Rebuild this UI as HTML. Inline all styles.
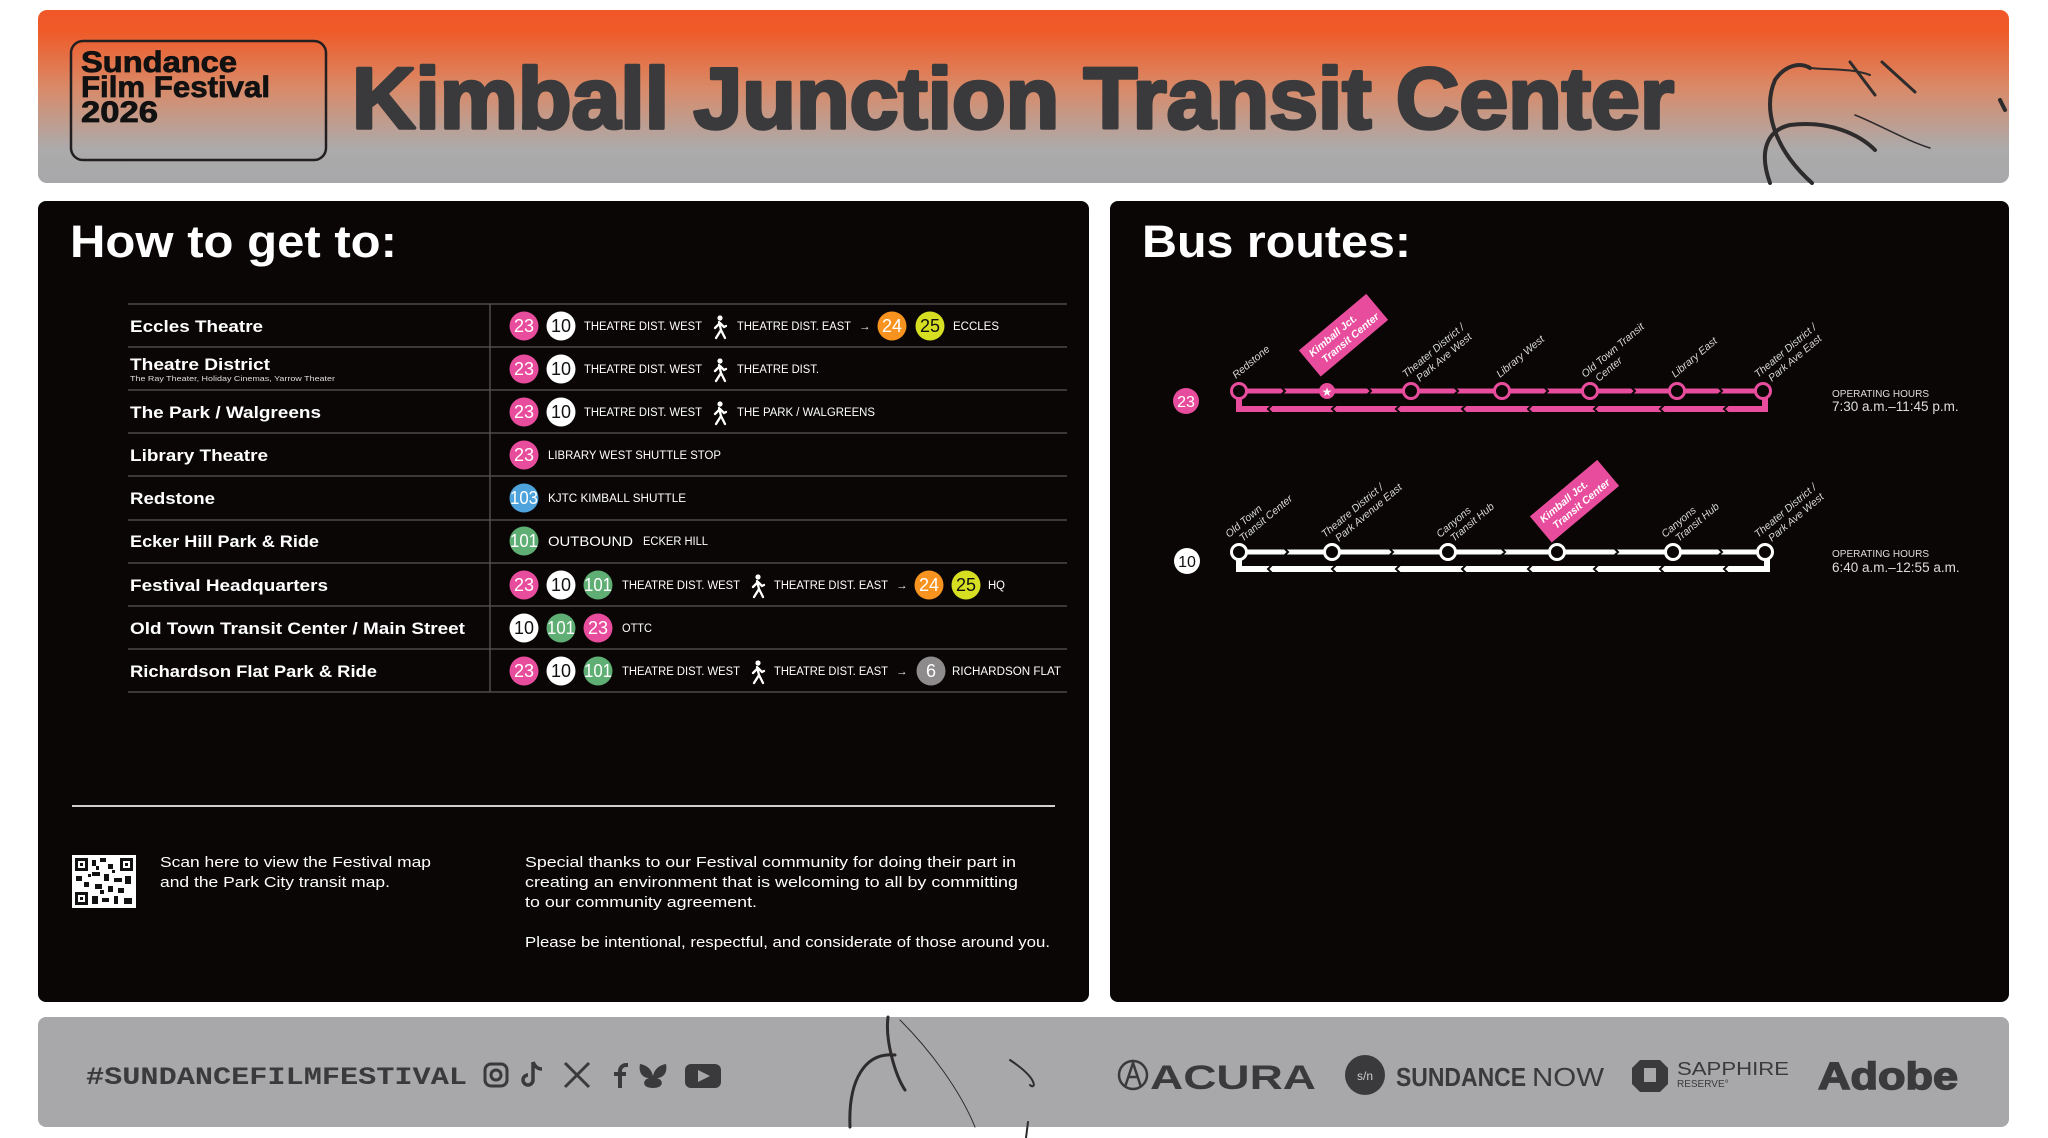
<!DOCTYPE html>
<html><head><meta charset="utf-8"><style>
html,body{margin:0;padding:0;background:#fff;}
svg{display:block;}
</style></head><body>
<svg width="2048" height="1138" viewBox="0 0 2048 1138" xmlns="http://www.w3.org/2000/svg" font-family="Liberation Sans, sans-serif">
<defs>
<linearGradient id="hg" x1="0" y1="0" x2="0" y2="1">
<stop offset="0" stop-color="#f0582a"/>
<stop offset="0.12" stop-color="#ef5a28"/>
<stop offset="0.45" stop-color="#d98a68"/>
<stop offset="0.8" stop-color="#acaaab"/>
<stop offset="1" stop-color="#a8a8aa"/>
</linearGradient>
<g id="walk" fill="#fff" stroke="#fff" stroke-linecap="round">
<circle cx="0" cy="-9" r="2.6" stroke="none"/>
<path d="M-1,-5 L1,3 L-4,11 M1,3 L5,11 M0,-4 L-5,1 M0,-4 L4,0 L6,-1" fill="none" stroke-width="2.3"/>
</g>
</defs>

<!-- Header -->
<rect x="38" y="10" width="1971" height="173" rx="9" fill="url(#hg)"/>
<rect x="71" y="41" width="255" height="119" rx="12" fill="none" stroke="#231f20" stroke-width="2.5"/>
<g fill="#111" stroke="#111" stroke-width="0.8">
<text x="81" y="72" font-size="30" font-weight="bold" textLength="156" lengthAdjust="spacingAndGlyphs">Sundance</text>
<text x="81" y="97" font-size="30" font-weight="bold" textLength="189" lengthAdjust="spacingAndGlyphs">Film Festival</text>
<text x="81" y="122" font-size="30" font-weight="bold" textLength="77" lengthAdjust="spacingAndGlyphs">2026</text>
</g>
<text x="352" y="128" font-size="86" font-weight="bold" fill="#3a3a3c" stroke="#3a3a3c" stroke-width="3.5" stroke-linejoin="round" textLength="1322" lengthAdjust="spacingAndGlyphs">Kimball Junction Transit Center</text>
<g fill="none" stroke="#2e2b2c" stroke-linecap="round">
<path d="M1812,183 C1775,150 1762,110 1775,80 C1785,65 1800,62 1810,68" stroke-width="4"/>
<path d="M1810,68 C1830,70 1850,68 1870,75" stroke-width="2"/>
<path d="M1770,183 C1758,150 1768,130 1790,125 C1830,120 1860,135 1875,150" stroke-width="4"/>
<path d="M1855,115 C1880,125 1905,140 1930,148" stroke-width="1.5"/>
<path d="M1850,62 L1875,95 M1882,62 L1915,92" stroke-width="3"/>
<path d="M2000,100 L2005,110" stroke-width="4"/>
</g>

<!-- Left panel -->
<rect x="38" y="201" width="1051" height="801" rx="8" fill="#0a0606"/>
<text x="70" y="257" font-size="45" font-weight="bold" fill="#fff" textLength="327" lengthAdjust="spacingAndGlyphs">How to get to:</text>
<g stroke="#5a5656" stroke-width="1.3">
<line x1="128" y1="304" x2="1067" y2="304"/><line x1="128" y1="347" x2="1067" y2="347"/>
<line x1="128" y1="390" x2="1067" y2="390"/><line x1="128" y1="433" x2="1067" y2="433"/>
<line x1="128" y1="476" x2="1067" y2="476"/><line x1="128" y1="520" x2="1067" y2="520"/>
<line x1="128" y1="563" x2="1067" y2="563"/><line x1="128" y1="606" x2="1067" y2="606"/>
<line x1="128" y1="649" x2="1067" y2="649"/><line x1="128" y1="692" x2="1067" y2="692"/>
<line x1="490" y1="304" x2="490" y2="692"/>
</g>
<g font-size="17" font-weight="bold" fill="#fff">
<text x="130" y="332" textLength="133" lengthAdjust="spacingAndGlyphs">Eccles Theatre</text>
<text x="130" y="370" textLength="140" lengthAdjust="spacingAndGlyphs">Theatre District</text>
<text x="130" y="418" textLength="191" lengthAdjust="spacingAndGlyphs">The Park / Walgreens</text>
<text x="130" y="461" textLength="138" lengthAdjust="spacingAndGlyphs">Library Theatre</text>
<text x="130" y="504" textLength="85" lengthAdjust="spacingAndGlyphs">Redstone</text>
<text x="130" y="547" textLength="189" lengthAdjust="spacingAndGlyphs">Ecker Hill Park &amp; Ride</text>
<text x="130" y="591" textLength="198" lengthAdjust="spacingAndGlyphs">Festival Headquarters</text>
<text x="130" y="634" textLength="335" lengthAdjust="spacingAndGlyphs">Old Town Transit Center / Main Street</text>
<text x="130" y="677" textLength="247" lengthAdjust="spacingAndGlyphs">Richardson Flat Park &amp; Ride</text>
</g>
<text x="130" y="381" font-size="7.5" fill="#ddd" textLength="205" lengthAdjust="spacingAndGlyphs">The Ray Theater, Holiday Cinemas, Yarrow Theater</text>

<!-- badges -->
<g font-size="18" text-anchor="middle">
<circle cx="524" cy="326" r="14.5" fill="#e84c9c"/><text x="524" y="332" fill="#fff">23</text>
<circle cx="561" cy="326" r="14.5" fill="#fff"/><text x="561" y="332" fill="#111">10</text>
<circle cx="892" cy="326" r="14.5" fill="#f7931e"/><text x="892" y="332" fill="#fff">24</text>
<circle cx="930" cy="326" r="14.5" fill="#d7df23"/><text x="930" y="332" fill="#111">25</text>
<circle cx="524" cy="369" r="14.5" fill="#e84c9c"/><text x="524" y="375" fill="#fff">23</text>
<circle cx="561" cy="369" r="14.5" fill="#fff"/><text x="561" y="375" fill="#111">10</text>
<circle cx="524" cy="412" r="14.5" fill="#e84c9c"/><text x="524" y="418" fill="#fff">23</text>
<circle cx="561" cy="412" r="14.5" fill="#fff"/><text x="561" y="418" fill="#111">10</text>
<circle cx="524" cy="455" r="14.5" fill="#e84c9c"/><text x="524" y="461" fill="#fff">23</text>
<circle cx="524" cy="498" r="14.5" fill="#4fa3dc"/><text x="524" y="504" fill="#fff" textLength="28" lengthAdjust="spacingAndGlyphs">103</text>
<circle cx="524" cy="541" r="14.5" fill="#5fae74"/><text x="524" y="547" fill="#fff" textLength="28" lengthAdjust="spacingAndGlyphs">101</text>
<circle cx="524" cy="585" r="14.5" fill="#e84c9c"/><text x="524" y="591" fill="#fff">23</text>
<circle cx="561" cy="585" r="14.5" fill="#fff"/><text x="561" y="591" fill="#111">10</text>
<circle cx="598" cy="585" r="14.5" fill="#5fae74"/><text x="598" y="591" fill="#fff" textLength="28" lengthAdjust="spacingAndGlyphs">101</text>
<circle cx="929" cy="585" r="14.5" fill="#f7931e"/><text x="929" y="591" fill="#fff">24</text>
<circle cx="966" cy="585" r="14.5" fill="#d7df23"/><text x="966" y="591" fill="#111">25</text>
<circle cx="524" cy="628" r="14.5" fill="#fff"/><text x="524" y="634" fill="#111">10</text>
<circle cx="561" cy="628" r="14.5" fill="#5fae74"/><text x="561" y="634" fill="#fff" textLength="28" lengthAdjust="spacingAndGlyphs">101</text>
<circle cx="598" cy="628" r="14.5" fill="#e84c9c"/><text x="598" y="634" fill="#fff">23</text>
<circle cx="524" cy="671" r="14.5" fill="#e84c9c"/><text x="524" y="677" fill="#fff">23</text>
<circle cx="561" cy="671" r="14.5" fill="#fff"/><text x="561" y="677" fill="#111">10</text>
<circle cx="598" cy="671" r="14.5" fill="#5fae74"/><text x="598" y="677" fill="#fff" textLength="28" lengthAdjust="spacingAndGlyphs">101</text>
<circle cx="931" cy="671" r="14.5" fill="#8d8b8c"/><text x="931" y="677" fill="#fff">6</text>
</g>
<g font-size="11.5" fill="#fff">
<text x="584" y="330" textLength="118" lengthAdjust="spacingAndGlyphs">THEATRE DIST. WEST</text>
<text x="737" y="330" textLength="114" lengthAdjust="spacingAndGlyphs">THEATRE DIST. EAST</text>
<text x="859" y="330">→</text>
<text x="953" y="330" textLength="46" lengthAdjust="spacingAndGlyphs">ECCLES</text>
<text x="584" y="373" textLength="118" lengthAdjust="spacingAndGlyphs">THEATRE DIST. WEST</text>
<text x="737" y="373" textLength="82" lengthAdjust="spacingAndGlyphs">THEATRE DIST.</text>
<text x="584" y="416" textLength="118" lengthAdjust="spacingAndGlyphs">THEATRE DIST. WEST</text>
<text x="737" y="416" textLength="138" lengthAdjust="spacingAndGlyphs">THE PARK / WALGREENS</text>
<text x="548" y="459" textLength="173" lengthAdjust="spacingAndGlyphs">LIBRARY WEST SHUTTLE STOP</text>
<text x="548" y="502" textLength="138" lengthAdjust="spacingAndGlyphs">KJTC KIMBALL SHUTTLE</text>
<text x="548" y="546" font-size="14" textLength="85" lengthAdjust="spacingAndGlyphs">OUTBOUND</text>
<text x="643" y="545" textLength="65" lengthAdjust="spacingAndGlyphs">ECKER HILL</text>
<text x="622" y="589" textLength="118" lengthAdjust="spacingAndGlyphs">THEATRE DIST. WEST</text>
<text x="774" y="589" textLength="114" lengthAdjust="spacingAndGlyphs">THEATRE DIST. EAST</text>
<text x="896" y="589">→</text>
<text x="988" y="589" textLength="17" lengthAdjust="spacingAndGlyphs">HQ</text>
<text x="622" y="632" textLength="30" lengthAdjust="spacingAndGlyphs">OTTC</text>
<text x="622" y="675" textLength="118" lengthAdjust="spacingAndGlyphs">THEATRE DIST. WEST</text>
<text x="774" y="675" textLength="114" lengthAdjust="spacingAndGlyphs">THEATRE DIST. EAST</text>
<text x="896" y="675">→</text>
<text x="952" y="675" textLength="109" lengthAdjust="spacingAndGlyphs">RICHARDSON FLAT</text>
</g>
<use href="#walk" x="720" y="327"/>
<use href="#walk" x="720" y="370"/>
<use href="#walk" x="720" y="413"/>
<use href="#walk" x="758" y="586"/>
<use href="#walk" x="758" y="672"/>

<line x1="72" y1="806" x2="1055" y2="806" stroke="#cfcfcf" stroke-width="2"/>
<rect x="72" y="855" width="64" height="53" fill="#fff"/>
<g fill="#111">
<rect x="75" y="858" width="13" height="13"/><rect x="120" y="858" width="13" height="13"/><rect x="75" y="892" width="13" height="13"/>
<rect x="92" y="860" width="4" height="6"/><rect x="100" y="858" width="6" height="4"/><rect x="108" y="864" width="5" height="5"/>
<rect x="92" y="872" width="8" height="4"/><rect x="104" y="874" width="5" height="7"/><rect x="76" y="876" width="6" height="5"/>
<rect x="114" y="878" width="8" height="4"/><rect x="125" y="876" width="6" height="8"/><rect x="84" y="882" width="5" height="5"/>
<rect x="95" y="884" width="7" height="5"/><rect x="108" y="886" width="5" height="6"/><rect x="118" y="888" width="6" height="5"/>
<rect x="92" y="896" width="6" height="8"/><rect x="102" y="898" width="7" height="4"/><rect x="114" y="896" width="4" height="8"/><rect x="124" y="898" width="8" height="6"/>
<rect x="96" y="866" width="3" height="4"/><rect x="88" y="874" width="3" height="3"/><rect x="100" y="890" width="4" height="4"/><rect x="112" y="870" width="3" height="3"/>
</g>
<rect x="78" y="861" width="7" height="7" fill="#fff"/><rect x="123" y="861" width="7" height="7" fill="#fff"/><rect x="78" y="895" width="7" height="7" fill="#fff"/>
<rect x="80" y="863" width="3" height="3" fill="#111"/><rect x="125" y="863" width="3" height="3" fill="#111"/><rect x="80" y="897" width="3" height="3" fill="#111"/>
<g font-size="15" fill="#fff">
<text x="160" y="867" textLength="271" lengthAdjust="spacingAndGlyphs">Scan here to view the Festival map</text>
<text x="160" y="887" textLength="230" lengthAdjust="spacingAndGlyphs">and the Park City transit map.</text>
<text x="525" y="867" textLength="491" lengthAdjust="spacingAndGlyphs">Special thanks to our Festival community for doing their part in</text>
<text x="525" y="887" textLength="493" lengthAdjust="spacingAndGlyphs">creating an environment that is welcoming to all by committing</text>
<text x="525" y="907" textLength="232" lengthAdjust="spacingAndGlyphs">to our community agreement.</text>
<text x="525" y="947" textLength="525" lengthAdjust="spacingAndGlyphs">Please be intentional, respectful, and considerate of those around you.</text>
</g>

<!-- Right panel -->
<rect x="1110" y="201" width="899" height="801" rx="8" fill="#0a0606"/>
<text x="1142" y="257" font-size="45" font-weight="bold" fill="#fff" textLength="269" lengthAdjust="spacingAndGlyphs">Bus routes:</text>

<!-- Route 23 -->
<g stroke="#e84c9c" fill="none">
<line x1="1239" y1="391" x2="1763" y2="391" stroke-width="5"/>
<path d="M1239,396 L1239,409 L1765,409 L1765,396" stroke-width="6"/>
</g>
<g stroke="#0a0606" stroke-width="2" fill="none">
<path d="M1281,387 l4,4 l-4,4 M1367,387 l4,4 l-4,4 M1454,387 l4,4 l-4,4 M1544,387 l4,4 l-4,4 M1631,387 l4,4 l-4,4 M1718,387 l4,4 l-4,4"/>
<path d="M1272,405 l-4,4 l4,4 M1336,405 l-4,4 l4,4 M1400,405 l-4,4 l4,4 M1466,405 l-4,4 l4,4 M1532,405 l-4,4 l4,4 M1598,405 l-4,4 l4,4 M1664,405 l-4,4 l4,4 M1728,405 l-4,4 l4,4"/>
</g>
<g fill="#0a0606" stroke="#e84c9c" stroke-width="3">
<circle cx="1239" cy="391" r="7.5"/><circle cx="1411" cy="391" r="7.5"/><circle cx="1502" cy="391" r="7.5"/>
<circle cx="1590" cy="391" r="7.5"/><circle cx="1677" cy="391" r="7.5"/><circle cx="1763" cy="391" r="7.5"/>
</g>
<circle cx="1327" cy="391" r="8" fill="#e84c9c"/>
<text x="1327" y="396" font-size="12" fill="#fff" text-anchor="middle">★</text>
<circle cx="1186" cy="401" r="13" fill="#e84c9c"/>
<text x="1186" y="407" font-size="16" fill="#fff" text-anchor="middle">23</text>
<g font-size="10.5" font-style="italic" fill="#d8d8d8">
<text transform="translate(1236,379) rotate(-40)">Redstone</text>
<text transform="translate(1406,378) rotate(-40)">Theater District /<tspan x="8" dy="12">Park Ave West</tspan></text>
<text transform="translate(1500,378) rotate(-40)">Library West</text>
<text transform="translate(1585,378) rotate(-40)">Old Town Transit<tspan x="8" dy="12">Center</tspan></text>
<text transform="translate(1675,378) rotate(-40)">Library East</text>
<text transform="translate(1758,378) rotate(-40)">Theater District /<tspan x="8" dy="12">Park Ave East</tspan></text>
</g>
<g transform="translate(1322,378) rotate(-40)">
<rect x="0" y="-36" width="88" height="34" fill="#e84c9c"/>
<text x="6" y="-22" font-size="10.5" font-style="italic" font-weight="bold" fill="#fff">Kimball Jct.</text>
<text x="12" y="-9" font-size="10.5" font-style="italic" font-weight="bold" fill="#fff">Transit Center</text>
</g>
<text x="1832" y="397" font-size="10" fill="#ddd">OPERATING HOURS</text>
<text x="1832" y="411" font-size="13.5" fill="#ddd">7:30 a.m.–11:45 p.m.</text>

<!-- Route 10 -->
<g stroke="#fff" fill="none">
<line x1="1239" y1="552" x2="1765" y2="552" stroke-width="5"/>
<path d="M1239,557 L1239,569 L1767,569 L1767,557" stroke-width="6"/>
</g>
<g stroke="#0a0606" stroke-width="2" fill="none">
<path d="M1284,548 l4,4 l-4,4 M1389,548 l4,4 l-4,4 M1501,548 l4,4 l-4,4 M1614,548 l4,4 l-4,4 M1718,548 l4,4 l-4,4"/>
<path d="M1272,565 l-4,4 l4,4 M1336,565 l-4,4 l4,4 M1400,565 l-4,4 l4,4 M1466,565 l-4,4 l4,4 M1532,565 l-4,4 l4,4 M1598,565 l-4,4 l4,4 M1664,565 l-4,4 l4,4 M1728,565 l-4,4 l4,4"/>
</g>
<g fill="#0a0606" stroke="#fff" stroke-width="3">
<circle cx="1239" cy="552" r="7.5"/><circle cx="1332" cy="552" r="7.5"/><circle cx="1448" cy="552" r="7.5"/>
<circle cx="1557" cy="552" r="7.5"/><circle cx="1673" cy="552" r="7.5"/><circle cx="1765" cy="552" r="7.5"/>
</g>
<circle cx="1187" cy="561" r="13" fill="#fff"/>
<text x="1187" y="567" font-size="16" fill="#111" text-anchor="middle">10</text>
<g font-size="10.5" font-style="italic" fill="#d8d8d8">
<text transform="translate(1229,538) rotate(-40)">Old Town<tspan x="8" dy="12">Transit Center</tspan></text>
<text transform="translate(1325,538) rotate(-40)">Theatre District /<tspan x="8" dy="12">Park Avenue East</tspan></text>
<text transform="translate(1440,538) rotate(-40)">Canyons<tspan x="8" dy="12">Transit Hub</tspan></text>
<text transform="translate(1665,538) rotate(-40)">Canyons<tspan x="8" dy="12">Transit Hub</tspan></text>
<text transform="translate(1758,538) rotate(-40)">Theater District /<tspan x="8" dy="12">Park Ave West</tspan></text>
</g>
<g transform="translate(1553,544) rotate(-40)">
<rect x="0" y="-36" width="88" height="34" fill="#e84c9c"/>
<text x="6" y="-22" font-size="10.5" font-style="italic" font-weight="bold" fill="#fff">Kimball Jct.</text>
<text x="12" y="-9" font-size="10.5" font-style="italic" font-weight="bold" fill="#fff">Transit Center</text>
</g>
<text x="1832" y="557" font-size="10" fill="#ddd">OPERATING HOURS</text>
<text x="1832" y="572" font-size="13.5" fill="#ddd">6:40 a.m.–12:55 a.m.</text>

<!-- Footer -->
<rect x="38" y="1017" width="1971" height="110" rx="8" fill="#a8a8aa"/>
<g fill="none" stroke="#2e2b2c" stroke-linecap="round">
<path d="M888,1017 C885,1040 895,1075 905,1090" stroke-width="3"/>
<path d="M895,1055 C865,1052 848,1080 850,1127" stroke-width="3"/>
<path d="M900,1020 C930,1050 960,1090 975,1127" stroke-width="1"/>
<path d="M1010,1060 C1040,1080 1035,1090 1030,1085" stroke-width="2"/>
<path d="M1028,1122 L1026,1138" stroke-width="2"/>
</g>
<text x="86" y="1084" style="font-family:'Liberation Mono',monospace" font-size="25" font-weight="bold" fill="#3a3a3c" textLength="381" lengthAdjust="spacingAndGlyphs">#SUNDANCEFILMFESTIVAL</text>
<g fill="none" stroke="#3a3a3c" stroke-width="3">
<rect x="485" y="1064" width="22" height="22" rx="6"/><circle cx="496" cy="1075" r="5"/>
</g>
<path d="M533,1062 v18 a5,5 0 1 1 -5,-5 M533,1062 c2,5 5,7 9,7" fill="none" stroke="#3a3a3c" stroke-width="3.5"/>
<path d="M565,1063 L589,1087 M589,1063 L565,1087" stroke="#3a3a3c" stroke-width="3"/>
<path d="M620,1088 v-17 a6,6 0 0 1 6,-6 h2 M614,1074 h12" fill="none" stroke="#3a3a3c" stroke-width="4"/>
<path d="M640,1064 C650,1066 652,1072 653,1076 C654,1072 656,1066 666,1064 C668,1074 662,1078 657,1078 C664,1080 664,1088 653,1088 C642,1088 642,1080 649,1078 C644,1078 638,1074 640,1064Z" fill="#3a3a3c"/>
<rect x="685" y="1064" width="36" height="24" rx="6" fill="#3a3a3c"/>
<path d="M698,1070 L710,1076 L698,1082Z" fill="#a8a8aa"/>
<ellipse cx="1133" cy="1075" rx="14" ry="14" fill="none" stroke="#3a3a3c" stroke-width="2.5"/>
<path d="M1125,1087 L1133,1063 L1141,1087 M1128,1077 L1138,1077" stroke="#3a3a3c" stroke-width="2.5" fill="none"/>
<text x="1150" y="1089" font-size="34" font-weight="bold" fill="#3a3a3c" textLength="166" lengthAdjust="spacingAndGlyphs">ACURA</text>
<circle cx="1365" cy="1075" r="20" fill="#3a3a3c"/>
<text x="1365" y="1080" font-size="12" fill="#ccc" text-anchor="middle">s/n</text>
<text x="1396" y="1086" font-size="26" font-weight="bold" fill="#3a3a3c" textLength="130" lengthAdjust="spacingAndGlyphs">SUNDANCE</text>
<text x="1532" y="1086" font-size="26" fill="#3a3a3c" textLength="72" lengthAdjust="spacingAndGlyphs">NOW</text>
<path d="M1640,1060 h20 l8,8 v16 l-8,8 h-20 l-8,-8 v-16 z" fill="#3a3a3c"/>
<rect x="1644" y="1068" width="12" height="14" fill="#a8a8aa"/>
<text x="1677" y="1075" font-size="18" fill="#3a3a3c" textLength="112" lengthAdjust="spacingAndGlyphs">SAPPHIRE</text>
<text x="1677" y="1087" font-size="10" fill="#3a3a3c">RESERVE°</text>
<text x="1818" y="1089" font-size="38" font-weight="bold" fill="#3a3a3c" stroke="#3a3a3c" stroke-width="1.5" textLength="140" lengthAdjust="spacingAndGlyphs">Adobe</text>
</svg>
</body></html>
